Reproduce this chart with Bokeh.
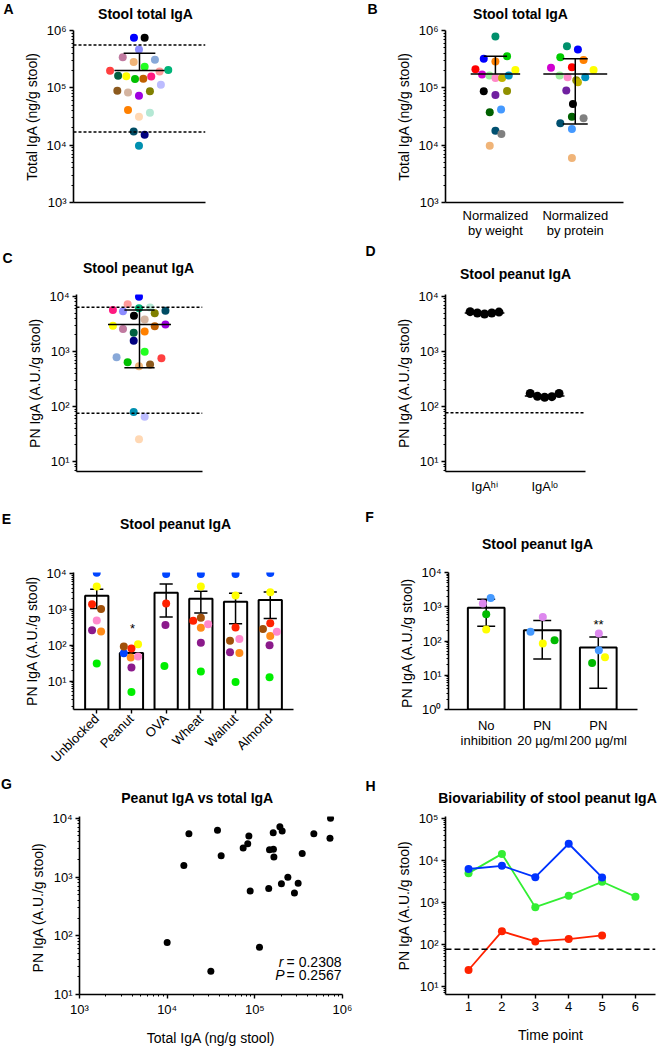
import math
from bokeh.plotting import figure
from bokeh.layouts import column, row
from bokeh.models import Range1d, FixedTicker, CustomJSTickFormatter, Label, Span
from bokeh.embed import file_html
from bokeh.resources import INLINE

FONT = "Liberation Sans"
NAN = float("nan")

# ---------------- Panel A: stool total IgA ----------------
a_vals = [7.45e5, 7.45e5, 4.67e5, 3.43e5, 2.81e5, 3.08e5, 2.33e5, 1.99e5, 1.93e5, 2.04e5,
          1.62e5, 1.60e5, 1.42e5, 1.44e5, 1.58e5, 1.13e5, 8.9e4, 8.3e4, 7.3e4, 8.7e4,
          4.1e4, 3.14e4, 3.68e4, 1.74e4, 1.52e4, 9.8e3]
a_jit = [0.458, 0.539, 0.496, 0.373, 0.456, 0.617, 0.539, 0.277, 0.652, 0.718, 0.338, 0.400, 0.466,
         0.529, 0.589, 0.662, 0.332, 0.413, 0.496, 0.579, 0.413, 0.496, 0.579, 0.456, 0.539, 0.496]
a_colors = ["#0000ff", "#000000", "#8c8cff", "#c07aa0", "#f0b478", "#88a8d8", "#22ff22", "#ff4040",
            "#ff9a9a", "#00b478", "#006040", "#ffff00", "#00c000", "#c06000", "#ff1a80", "#bcbcff",
            "#8c5a1e", "#d4b4a0", "#a000e0", "#808000", "#ff8000", "#ffd8b4", "#b4e8d4", "#004c64",
            "#000080", "#0090b0"]
a_mean = 2.0e5
a_upper = 4.0e5
a_cutoffs = [5.6e5, 1.7e4]

# ---------------- Panel B: normalized by weight / protein ----------------
b_labels = ["Normalized\nby weight", "Normalized\nby protein"]
b_weight = [7.85e5, 3.2e5, 3.57e5, 2.87e5, 2.11e5, 2.05e5, 1.70e5, 1.64e5, 1.49e5, 1.49e5,
            1.64e5, 8.7e4, 8.8e4, 7.5e4, 3.74e4, 4.17e4, 1.79e4, 1.57e4, 9.8e3]
b_weight_jit = [0, -0.146, 0.146, 0, -0.25, 0.25, -0.167, -0.075, 0, 0.083, 0.167, -0.146, 0.146,
                0, -0.071, 0.071, 0, 0.075, -0.071]
b_weight_colors = ["#00906c", "#0000ff", "#00cc00", "#ff8000", "#ff0000", "#ffff00", "#d000d0",
                   "#99ee99", "#ff88c8", "#c0b400", "#0090c0", "#000000", "#909000", "#7020a0",
                   "#006000", "#4499ff", "#005070", "#808080", "#f0b478"]
b_protein = [5.3e5, 4.66e5, 3.42e5, 3.07e5, 2.23e5, 2.28e5, 2.05e5, 1.64e5, 1.53e5, 1.36e5,
             1.25e5, 1.53e5, 8.97e4, 5.24e4, 3.14e4, 2.4e4, 2.94e4, 1.91e4, 5.96e3]
b_protein_jit = [-0.104, 0.033, -0.1875, 0.104, -0.304, -0.042, 0.229, -0.196, -0.096, 0.0125,
                 0.033, 0.125, -0.1125, -0.029, -0.042, -0.1875, 0.104, -0.042, -0.042]
b_protein_colors = ["#00906c", "#0000ff", "#00cc00", "#ff8000", "#d000d0", "#ff0000", "#ffff00",
                    "#99ee99", "#ff88c8", "#909000", "#c0b400", "#0090c0", "#7020a0", "#000000",
                    "#006000", "#005070", "#808080", "#4499ff", "#f0b478"]
b_mean = [1.75e5, 1.75e5]
b_upper = [3.56e5, 3.2e5]
b_lower = [NAN, 2.34e4]

# ---------------- Panel C: stool peanut IgA ----------------
c_vals = [9.9e3, 7.26e3, 5.7e3, 5.4e3, 6.1e3, 6.3e3, 5.5e3, 4.45e3, 3.8e3, 4.97e3, 2.93e3, 2.55e3,
          2.89e3, 3.1e3, 2.2e3, 2.31e3, 1.56e3, 990, 789, 640, 541, 580, 757, 79, 65, 25.5]
c_jit = [0.496, 0.406, 0.289, 0.369, 0.496, 0.584, 0.706, 0.456, 0.541, 0.621, 0.289, 0.369, 0.621,
         0.706, 0.454, 0.541, 0.454, 0.541, 0.318, 0.406, 0.496, 0.584, 0.674, 0.454, 0.541, 0.496]
c_colors = ["#0000ff", "#ff9a9a", "#ff1a80", "#8c8cff", "#00b478", "#b4e8d4", "#004c64", "#000000",
            "#d4b4a0", "#808000", "#ffff00", "#c07aa0", "#c06000", "#a000e0", "#006040", "#ff8000",
            "#000080", "#22ff22", "#88a8d8", "#00c000", "#f0b478", "#8c5a1e", "#ff4040", "#0090b0",
            "#bcbcff", "#ffd8b4"]
c_median = 3.1e3
c_upper = 5.7e3
c_lower = 505
c_cutoffs = [6.4e3, 75.7]

# ---------------- Panel D: IgA-hi vs IgA-lo ----------------
d_labels = ["IgA\u02b0\u2071", "IgA\u02e1\u1d52"]
d_hi = [5.3e3, 5.0e3, 4.8e3, 5.0e3, 5.2e3]
d_lo = [172, 153, 147, 151, 172]
d_jit = [-0.24, -0.12, 0, 0.12, 0.24]
d_median = [5.0e3, 155]
d_cutoff = 77

# ---------------- Panel E: blocking ----------------
e_categories = ["Unblocked", "Peanut", "OVA", "Wheat", "Walnut", "Almond"]
e_means = [2.47e3, 61.5, 3.0e3, 2.02e3, 1.66e3, 1.87e3]
e_upper = [3.73e3, NAN, 5.2e3, 3.3e3, 2.88e3, 3.1e3]
e_lower = [1.07e3, NAN, 620, 800, 401, 561]
e_series = {
    "#0044ff": ([1.08e4, 60, 1.0e4, 1.0e4, 1.0e4, 1.06e4], [0, -0.22, 0, 0, 0, 0]),
    "#ffff00": ([4.46e3, 107, NAN, 4.46e3, 2.51e3, 3.06e3], [0, 0.19, 0, 0, 0, 0]),
    "#a0500a": ([1.05e3, 93, NAN, 596, 135, 287], [0.125, -0.22, 0, 0, -0.16, -0.21]),
    "#ff2200": ([1.42e3, 82, 1.48e3, 489, 316, 417], [-0.135, 0, 0, -0.22, 0, 0]),
    "#ff8c1a": ([245, 46, NAN, 309, 61.5, 182], [0.125, -0.02, 0, 0, 0.11, 0]),
    "#ff88cc": ([499, 48.5, NAN, 393, 150, 240], [0, 0.19, 0, 0.21, 0.11, 0.19]),
    "#8b1a8b": ([265, 23.9, 371, 118, 64, 100], [-0.135, 0, -0.02, 0, -0.16, -0.02]),
    "#00ee00": ([30.8, 4.9, 26.3, 18.5, 9.4, 12.7], [0, 0, -0.05, 0, 0, -0.02]),
}

# ---------------- Panel F: inhibition ----------------
f_labels = ["No\ninhibition", "PN\n20 \u00b5g/ml", "PN\n200 \u00b5g/ml"]
f_means = [936, 206, 64.6]
f_upper = [1660, 398, 130]
f_lower = [268, 30, 4.2]
f_series = {
    "#4499ff": ([1.81e3, 186, 54], [0.08, -0.21, 0.01]),
    "#dd88ee": ([1.25e3, 498, 166], [-0.06, 0.01, 0.01]),
    "#00bb00": ([603, 105, 22.6], [0.0, 0.22, -0.11]),
    "#ffff00": ([216, 84, 33.4], [0.0, 0.01, 0.12]),
}

# ---------------- Panel G: peanut vs total ----------------
g_total = [1e4, 1.55e4, 1.77e4, 3.15e4, 3.75e4, 4.13e4, 7.36e4, 8.3e4, 8.55e4, 8.85e4, 1.13e5,
           1.44e5, 1.47e5, 1.62e5, 1.63e5, 1.65e5, 1.93e5, 2.05e5, 2.01e5, 2.38e5, 3.12e5, 2.83e5,
           3.47e5, 4.71e5, 7.3e5, 7.2e5]
g_pn = [76.6, 1.57e3, 5.45e3, 24.8, 6.24e3, 2.31e3, 3.12e3, 3.7e3, 5.0e3, 580, 63.8, 638, 2.9e3,
        5.66e3, 2.98e3, 2.2e3, 7.2e3, 6.08e3, 765, 988, 785, 532, 2.51e3, 5.45e3, 1e4, 4.55e3]
g_stats = ["0.2308", "0.2567"]

# ---------------- Panel H: biovariability ----------------
h_time = [1, 2, 3, 4, 5, 6]
h_blue = [6.2e3, 7.4e3, 3.96e3, 2.48e4, 3.9e3]
h_green = [4.94e3, 1.42e4, 762, 1.43e3, 3.07e3, 1.36e3]
h_red = [24.2, 202, 116, 132, 162]
h_cutoff = 75.5

SUP = """
const sup = {"0":"\u2070","1":"\u00b9","2":"\u00b2","3":"\u00b3","4":"\u2074","5":"\u2075","6":"\u2076","7":"\u2077","8":"\u2078","9":"\u2079","-":"\u207b"};
const e = Math.round(Math.log10(tick));
return "10" + String(e).split("").map(c => sup[c]).join("");
"""

TOTAL_W = 658


def log_ticker(lo, hi):
    majors = [10.0 ** k for k in range(lo, hi + 1)]
    minors = [m * 10.0 ** k for k in range(lo - 1, hi + 1) for m in range(2, 10)]
    return FixedTicker(ticks=majors, minor_ticks=minors)


def style_axis(ax):
    ax.axis_line_width = 1.6
    ax.axis_line_color = "black"
    ax.major_tick_line_width = 1.4
    ax.major_tick_line_color = "black"
    ax.minor_tick_line_color = "black"
    ax.minor_tick_line_width = 1
    ax.major_tick_out = 4
    ax.major_tick_in = 0
    ax.minor_tick_out = 2
    ax.minor_tick_in = 0
    ax.major_label_text_font = FONT
    ax.major_label_text_font_size = "13px"
    ax.major_label_text_color = "black"
    ax.major_label_standoff = 3
    ax.axis_label_text_font = FONT
    ax.axis_label_text_font_size = "14px"
    ax.axis_label_text_font_style = "normal"
    ax.axis_label_text_color = "black"
    ax.axis_label_standoff = 3


class Panel:
    def __init__(self, W, H, ox, oy, fl, fr, ft, fb, xr, yr, x_log=False, y_log=True):
        # fl, fr, ft, fb: page coordinates of the frame; ox, oy: page origin of the figure
        self.fl, self.fb = fl, fb
        self.p = figure(width=W, height=H,
                        x_range=Range1d(*xr), y_range=Range1d(*yr),
                        x_axis_type="log" if x_log else "linear",
                        y_axis_type="log" if y_log else "linear",
                        min_border_left=fl - ox, min_border_right=W - (fr - ox),
                        min_border_top=ft - oy, min_border_bottom=H - (fb - oy),
                        toolbar_location=None, output_backend="svg",
                        outline_line_color=None)
        self.p.grid.visible = False
        for ax in self.p.axis:
            style_axis(ax)

    def text(self, px, py, text, size="14px", style="normal", align="center", baseline="middle"):
        self.p.add_layout(Label(x=px - self.fl, y=self.fb - py, x_units="screen", y_units="screen",
                                text=text, text_font=FONT, text_font_size=size,
                                text_font_style=style, text_align=align,
                                text_baseline=baseline, text_color="black"))

    def ylog(self, lo, hi, label):
        ax = self.p.yaxis[0]
        ax.ticker = log_ticker(lo, hi)
        ax.formatter = CustomJSTickFormatter(code=SUP)
        ax.axis_label = label

    def no_x(self):
        ax = self.p.xaxis[0]
        ax.ticker = FixedTicker(ticks=[])
        ax.major_label_text_font_size = "0px"

    def cat_x(self, labels, ticks=True):
        ax = self.p.xaxis[0]
        pos = list(range(1, len(labels) + 1))
        ax.ticker = FixedTicker(ticks=pos, minor_ticks=[])
        ax.major_label_overrides = {i: lab for i, lab in zip(pos, labels)}
        if not ticks:
            ax.major_tick_line_color = None
        ax.minor_tick_line_color = None


def header(y0, y1, items):
    """A strip holding the panel letters and titles; data coords = page pixels."""
    h = figure(width=TOTAL_W, height=y1 - y0, x_range=Range1d(0, TOTAL_W), y_range=Range1d(y1, y0),
               min_border=0, toolbar_location=None, output_backend="svg", title=None,
               outline_line_color=None, x_axis_location=None, y_axis_location=None)
    h.grid.visible = False
    for x, y, txt, size, style, align in items:
        h.add_layout(Label(x=x, y=y, text=txt, text_font=FONT, text_font_size=size,
                           text_font_style=style, text_align=align, text_baseline="middle",
                           text_color="black"))
    return h


def summary(p, xc, mid, up, lo, hw_mid, hw_cap):
    xc = list(xc)
    p.segment(x0=[x - hw_mid for x in xc], x1=[x + hw_mid for x in xc], y0=mid, y1=mid,
              line_color="black", line_width=1.5)
    for ends in (up, lo):
        sel = [(x, m, e) for x, m, e in zip(xc, mid, ends) if not math.isnan(e)]
        if not sel:
            continue
        p.segment(x0=[a for a, _, _ in sel], x1=[a for a, _, _ in sel],
                  y0=[m for _, m, _ in sel], y1=[e for _, _, e in sel],
                  line_color="black", line_width=1.5)
        p.segment(x0=[a - hw_cap for a, _, _ in sel], x1=[a + hw_cap for a, _, _ in sel],
                  y0=[e for _, _, e in sel], y1=[e for _, _, e in sel],
                  line_color="black", line_width=1.5)


def cutoff(p, val, dash="3 2", width=1.5):
    p.add_layout(Span(location=val, dimension="width", line_color="black",
                      line_dash=dash, line_width=width))


DOT = 8
LET = "14px"
TIT = "14px"

# ----- header rows -----
hdr1 = header(0, 22, [(8, 8, "A", LET, "bold", "center"), (372, 8, "B", LET, "bold", "center"),
                      (145, 13, "Stool total IgA", TIT, "bold", "center"),
                      (520, 13, "Stool total IgA", TIT, "bold", "center")])
hdr2 = header(243, 284, [(7, 257, "C", LET, "bold", "center"), (370, 250, "D", LET, "bold", "center"),
                         (138, 267, "Stool peanut IgA", TIT, "bold", "center"),
                         (515, 273, "Stool peanut IgA", TIT, "bold", "center")])
hdr3 = header(505, 552, [(6, 518, "E", LET, "bold", "center"), (369, 516, "F", LET, "bold", "center"),
                         (175, 523, "Stool peanut IgA", TIT, "bold", "center"),
                         (537, 543, "Stool peanut IgA", TIT, "bold", "center")])
hdr4 = header(773, 806, [(6, 783, "G", LET, "bold", "center"), (370, 785, "H", LET, "bold", "center"),
                         (197, 797, "Peanut IgA vs total IgA", TIT, "bold", "center"),
                         (547, 797, "Biovariability of stool peanut IgA", TIT, "bold", "center")])

# ----- A -----
A = Panel(330, 221, 0, 22, 73, 205, 30, 202, (0, 1), (1e3, 1e6))
A.ylog(3, 6, "Total IgA (ng/g stool)")
A.no_x()
A.p.scatter(a_jit, a_vals, size=DOT, color=a_colors, line_color=None)
summary(A.p, [0.5], [a_mean], [a_upper], [NAN], 0.19, 0.12)
for c in a_cutoffs:
    cutoff(A.p, c)

# ----- B -----
B = Panel(328, 221, 330, 22, 445, 623, 30, 202, (0.375, 2.604), (1e3, 1e6))
B.ylog(3, 6, "Total IgA (ng/g stool)")
B.cat_x(b_labels, ticks=False)
B.p.xaxis[0].major_label_standoff = 1
B.p.xaxis[0].major_label_text_line_height = 1.0
B.p.scatter([1 + j for j in b_weight_jit], b_weight, size=DOT, color=b_weight_colors, line_color=None)
B.p.scatter([2 + j for j in b_protein_jit], b_protein, size=DOT, color=b_protein_colors, line_color=None)
summary(B.p, [1], [b_mean[0]], [b_upper[0]], [b_lower[0]], 0.31, 0.146)
summary(B.p, [2], [b_mean[1]], [b_upper[1]], [b_lower[1]], 0.40, 0.156)

# ----- C -----
C = Panel(330, 221, 0, 284, 76, 202, 294, 471, (0, 1), (10 ** 0.818, 10 ** 4.036))
C.ylog(1, 4, "PN IgA (A.U./g stool)")
C.no_x()
C.p.scatter(c_jit, c_vals, size=DOT, color=c_colors, line_color=None)
summary(C.p, [0.5], [c_median], [c_upper], [c_lower], 0.25, 0.12)
for c in c_cutoffs:
    cutoff(C.p, c)

# ----- D -----
D = Panel(328, 221, 330, 284, 445, 585, 294, 471, (0.35, 2.68), (10 ** 0.818, 10 ** 4.036))
D.ylog(1, 4, "PN IgA (A.U./g stool)")
D.cat_x(d_labels, ticks=False)
D.p.scatter([1 + j for j in d_jit], d_hi, size=DOT + 1, color="black", line_color=None)
D.p.scatter([2 + j for j in d_jit], d_lo, size=DOT + 1, color="black", line_color=None)
summary(D.p, [1, 2], d_median, [NAN, NAN], [NAN, NAN], 0.33, 0.1)
cutoff(D.p, d_cutoff)

# ----- E -----
E = Panel(330, 221, 0, 552, 73, 293, 566, 715, (0.33, 6.67), (10 ** 0.203, 10 ** 4.041))
E.ylog(1, 4, "PN IgA (A.U./g stool)")
E.cat_x(e_categories, ticks=True)
E.p.xaxis[0].major_label_orientation = math.pi / 4
e_x = list(range(1, len(e_categories) + 1))
E.p.vbar(x=e_x, top=e_means, bottom=10 ** 0.203, width=0.67, fill_color="white",
         line_color="black", line_width=2)
summary(E.p, e_x, e_means, e_upper, e_lower, 0.0, 0.19)
for col, (vals, jit) in e_series.items():
    E.p.scatter([x + j for x, j in zip(e_x, jit)], vals, size=DOT, color=col, line_color=None)
E.text(132, 634, "*", size="13px")

# ----- F -----
F = Panel(328, 221, 330, 552, 448, 637, 572, 712, (0.327, 3.70), (1, 1e4))
F.ylog(0, 4, "PN IgA  (A.U./g stool)")
F.cat_x(f_labels, ticks=False)
F.p.xaxis[0].major_label_text_line_height = 1.05
F.p.xaxis[0].major_label_standoff = 4
f_x = list(range(1, len(f_labels) + 1))
F.p.vbar(x=f_x, top=f_means, bottom=1, width=0.655, fill_color="white",
         line_color="black", line_width=2)
summary(F.p, f_x, f_means, f_upper, f_lower, 0.0, 0.16)
for col, (vals, jit) in f_series.items():
    F.p.scatter([x + j for x, j in zip(f_x, jit)], vals, size=DOT, color=col, line_color=None)
F.text(598, 627, "**", size="13px")

# ----- G -----
G = Panel(353, 242, 0, 806, 79, 342, 814, 1006, (1e3, 1e6), (10, 10 ** 4.03), x_log=True)
G.ylog(1, 4, "PN IgA  (A.U./g stool)")
gx = G.p.xaxis[0]
gx.ticker = log_ticker(3, 6)
gx.formatter = CustomJSTickFormatter(code=SUP)
gx.axis_label = "Total IgA (ng/g stool)"
gx.axis_label_standoff = 10
G.p.scatter(g_total, g_pn, size=7, color="black", line_color=None)
G.text(341, 973, "= " + g_stats[0], align="right")
G.text(283, 973, "r", style="italic", align="right")
G.text(341, 986, "= " + g_stats[1], align="right")
G.text(284, 986, "P", style="italic", align="right")

# ----- H -----
H = Panel(305, 242, 353, 806, 445, 655, 816, 1008, (0.31, 6.6), (10 ** 0.8, 10 ** 5.044))
H.ylog(1, 5, "PN IgA (A.U./g stool)")
hx = H.p.xaxis[0]
hx.ticker = FixedTicker(ticks=h_time, minor_ticks=[])
hx.axis_label = "Time point"
hx.axis_label_standoff = 13
cutoff(H.p, h_cutoff, dash="6 3", width=1.6)
for col, vals in (("#33ee33", h_green), ("#0033ff", h_blue), ("#ff2200", h_red)):
    H.p.line(h_time[:len(vals)], vals, line_color=col, line_width=1.8)
    H.p.scatter(h_time[:len(vals)], vals, size=8, color=col, line_color=None)

layout = column(hdr1, row(A.p, B.p), hdr2, row(C.p, D.p), hdr3, row(E.p, F.p),
                hdr4, row(G.p, H.p), spacing=0)
open("out.html", "w").write(file_html(layout, INLINE))
